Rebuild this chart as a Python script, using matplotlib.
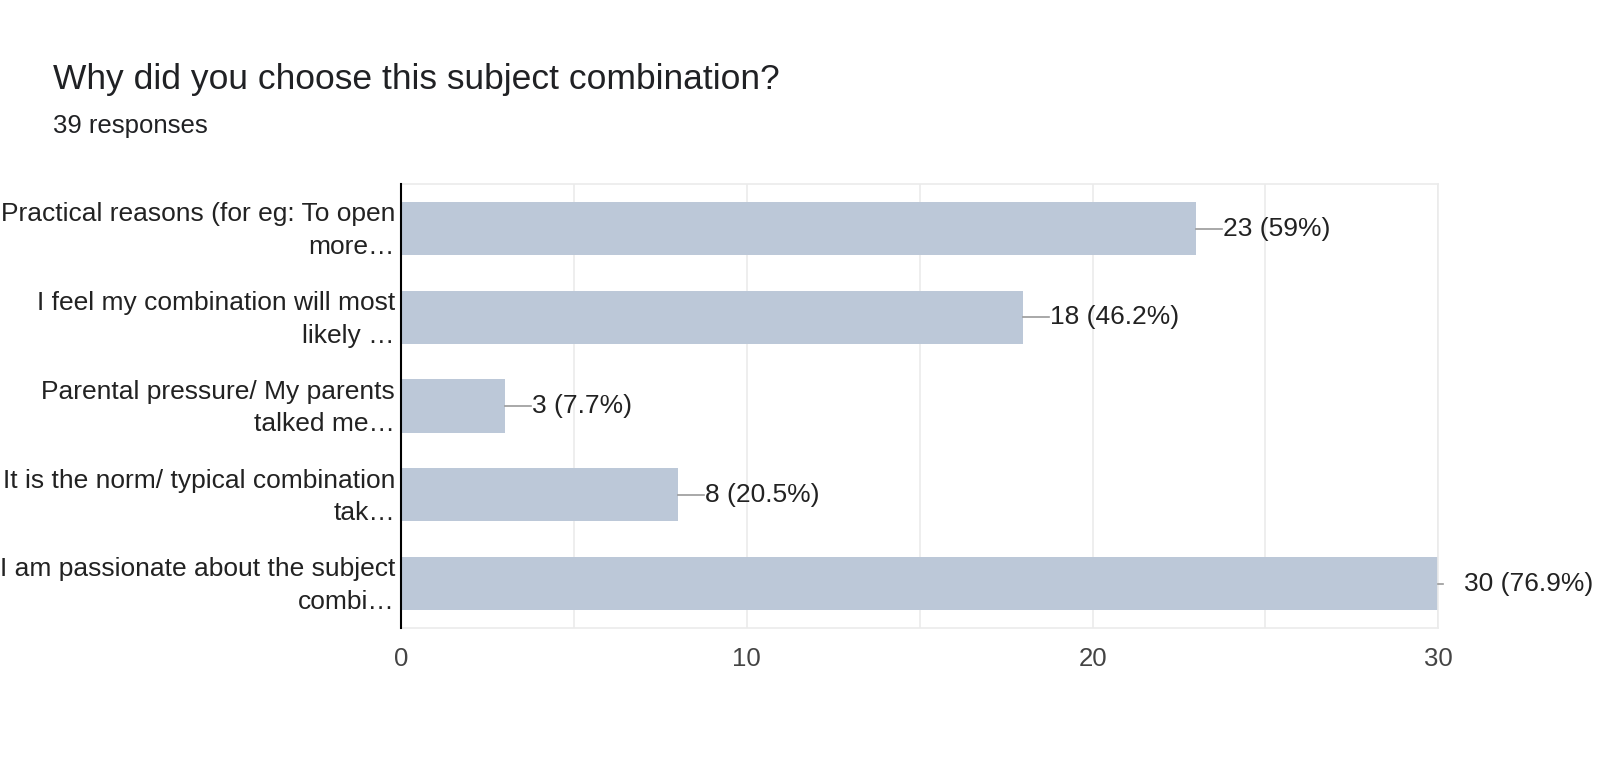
import matplotlib
matplotlib.use("Agg")
import matplotlib.pyplot as plt

categories = [
    "Practical reasons (for eg: To open\nmore…",
    "I feel my combination will most\nlikely …",
    "Parental pressure/ My parents\ntalked me…",
    "It is the norm/ typical combination\ntak…",
    "I am passionate about the subject\ncombi…",
]
values = [23, 18, 3, 8, 30]
percents = ["59%", "46.2%", "7.7%", "20.5%", "76.9%"]
xticks = [0, 10, 20, 30]

plt.rcParams['font.family'] = ['Liberation Sans', 'DejaVu Sans']

fig = plt.figure(figsize=(16, 7.61), dpi=100)
ax = fig.add_axes([0.2506, 0.1748, 0.899 - 0.2506, 0.758 - 0.1748])

ypos = list(range(len(categories)))
ax.barh(ypos, values, height=0.6, color='#bcc8d8', zorder=2)
ax.set_ylim(len(categories) - 0.5, -0.5)
ax.set_xlim(0, 30)

for x in range(5, 31, 5):
    ax.axvline(x, color='#ebebeb', lw=1.2, zorder=1)

for i, (v, p) in enumerate(zip(values, percents)):
    if v >= 30:
        ax.plot([v, v + 0.12], [i, i], color='#999999', lw=1.2, zorder=3,
                clip_on=False)
        ax.text(v + 0.75, i, f"{v} ({p})", va='center', ha='left',
                fontsize=19, color='#222222', clip_on=False)
    else:
        ax.plot([v, v + 0.75], [i, i], color='#999999', lw=1.2, zorder=3,
                clip_on=False)
        ax.text(v + 0.78, i, f"{v} ({p})", va='center', ha='left',
                fontsize=19, color='#222222')

# category labels (drawn as annotations so they can be nudged to centre on bars)
ax.set_yticks(ypos)
ax.set_yticklabels([])
for i, cat in enumerate(categories):
    ax.annotate(cat, xy=(0, i), xycoords=('axes fraction', 'data'),
                xytext=(-4.3, -1.4), textcoords='offset points',
                ha='right', va='center', fontsize=19, color='#222222',
                linespacing=1.45, multialignment='right', annotation_clip=False)

ax.set_xticks(xticks)
ax.set_xticklabels([str(t) for t in xticks], fontsize=18.5, color='#444444')
ax.tick_params(axis='both', length=0)
ax.tick_params(axis='x', pad=14)

for s in ['top', 'right', 'bottom']:
    ax.spines[s].set_color('#ebebeb')
    ax.spines[s].set_linewidth(1.2)
ax.spines['left'].set_color('#000000')
ax.spines['left'].set_linewidth(1.5)
ax.spines['left'].set_zorder(4)

fig.text(53 / 1600, 1 - 79 / 761, "Why did you choose this subject combination?",
         fontsize=25.5, color='#202124', va='center', ha='left')
fig.text(53 / 1600, 1 - 126 / 761, "39 responses",
         fontsize=18.5, color='#202124', va='center', ha='left')

fig.savefig("out.png", dpi=100)
